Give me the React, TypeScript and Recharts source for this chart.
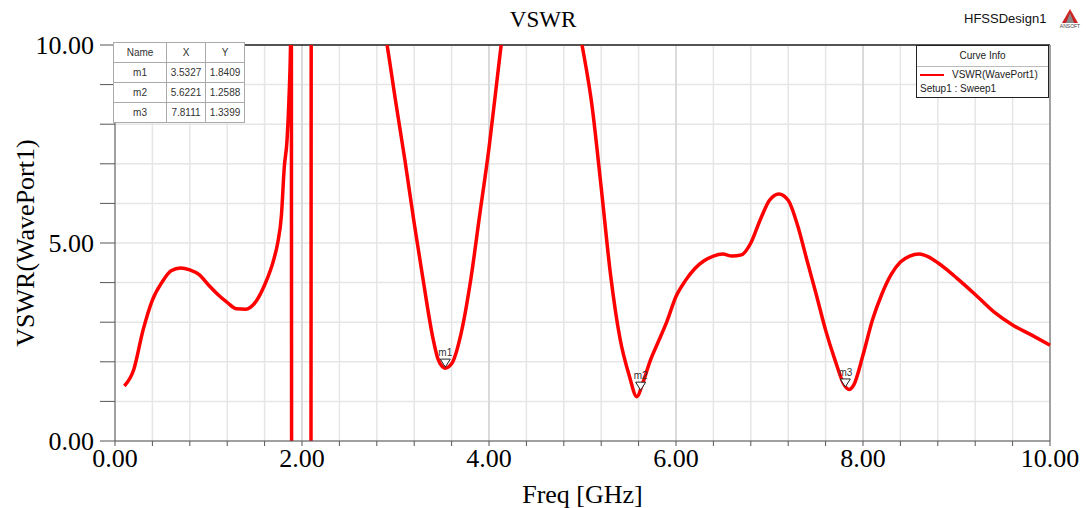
import React from "react";
import {
  LineChart,
  Line,
  CartesianGrid,
  XAxis,
  YAxis,
  ReferenceLine,
  ReferenceDot,
} from "recharts";

// frequency (GHz) and VSWR; values > 10 or < 0 are clipped by the frame
const freq = [
  0.1, 0.2, 0.3, 0.4, 0.5, 0.6, 0.7, 0.8, 0.9, 1.0, 1.1, 1.2, 1.3, 1.4, 1.5, 1.6, 1.7, 1.74, 1.78, 1.81, 1.84,
  1.86, 1.88, 1.885, 1.89, 2.095, 2.1, 2.5, 2.91, 3.0, 3.1, 3.2, 3.3, 3.4, 3.45, 3.5, 3.53, 3.6, 3.7, 3.8, 3.9,
  4.0, 4.1, 4.13, 4.5, 4.995, 5.1, 5.2, 5.3, 5.4, 5.5, 5.58, 5.65, 5.72, 5.8, 5.9, 6.0, 6.1, 6.2, 6.3, 6.4,
  6.5, 6.6, 6.7, 6.8, 6.9, 7.0, 7.1, 7.2, 7.3, 7.4, 7.5, 7.6, 7.7, 7.8, 7.85, 7.9, 8.0, 8.1, 8.2, 8.3, 8.4, 8.5,
  8.6, 8.7, 8.8, 8.9, 9.0, 9.2, 9.4, 9.6, 9.8, 10.0,
];
const vswr = [
  1.39, 1.8, 2.8, 3.56, 4.0, 4.3, 4.37, 4.32, 4.2, 3.94, 3.7, 3.5, 3.34, 3.33, 3.5, 3.94, 4.6, 5.0, 5.7, 6.9, 7.6,
  8.6, 10.4, 14, -3, -3, 14, 14, 10.0, 8.6, 7.1, 5.5, 4.0, 2.6, 2.1, 1.88, 1.84, 1.95, 2.7, 4.0, 5.7,
  7.4, 9.4, 10.0, 14, 10.0, 8.5, 6.4, 4.2, 2.6, 1.65, 1.12, 1.5, 2.0, 2.45, 3.0, 3.65, 4.05, 4.35, 4.55, 4.67,
  4.72, 4.67, 4.7, 5.0, 5.58, 6.08, 6.24, 6.08, 5.45, 4.57, 3.7, 2.8, 2.05, 1.41, 1.3, 1.41, 2.17, 3.05, 3.7, 4.2, 4.52, 4.67,
  4.72, 4.65, 4.5, 4.32, 4.12, 3.7, 3.26, 2.93, 2.68, 2.42,
];

const xTicks = [0, 0.4, 0.8, 1.2, 1.6, 2, 2.4, 2.8, 3.2, 3.6, 4, 4.4, 4.8, 5.2, 5.6, 6, 6.4, 6.8, 7.2, 7.6, 8, 8.4, 8.8, 9.2, 9.6, 10];
const xLabeled = [0, 2, 4, 6, 8, 10];
const yTicks = [0, 1, 2, 3, 4, 5, 6, 7, 8, 9, 10];
const yLabeled = [0, 5, 10];

const markerNames = ["m1", "m2", "m3"];
const markerX = [3.5327, 5.6221, 7.8111];
const markerY = [1.8409, 1.2588, 1.3399];

const data = freq.map((f, i) => ({ f, v: vswr[i] }));

const serif = "'Liberation Serif', 'DejaVu Serif', serif";
const sans = "'Liberation Sans', Arial, sans-serif";

function MarkerShape(props: any) {
  const { cx, cy, name } = props;
  return (
    <g>
      <path d={`M${cx - 5},${cy - 9} L${cx + 5},${cy - 9} L${cx},${cy - 1} Z`} fill="white" stroke="#222" strokeWidth={1} />
      <text x={cx} y={cy - 12} textAnchor="middle" fontSize={10} fontFamily={sans} fill="#333">
        {name}
      </text>
    </g>
  );
}

const cell: React.CSSProperties = {
  border: "1px solid #aaa",
  padding: 0,
  textAlign: "center",
  height: 19,
  fontSize: 10,
  color: "#333",
};

export default function App() {
  return (
    <div style={{ position: "absolute", left: 0, top: 0, width: 1086, height: 508, background: "#fff", fontFamily: serif }}>
      <LineChart width={1086} height={508} data={data} margin={{ top: 45, right: 36, bottom: 27, left: 0 }}>
        <CartesianGrid stroke="#e6e6e6" strokeWidth={1.5} />
        {[2, 4, 6, 8].map((x) => (
          <ReferenceLine key={x} x={x} stroke="#d4d4d4" strokeWidth={1.5} />
        ))}
        <ReferenceLine y={10} stroke="#222" strokeWidth={1.5} />
        <ReferenceLine x={10} stroke="#888" strokeWidth={1.5} />
        <XAxis
          dataKey="f"
          type="number"
          domain={[0, 10]}
          ticks={xTicks}
          interval={0}
          height={40}
          tickSize={5}
          stroke="#555"
          tickFormatter={(v: number) => (xLabeled.includes(Math.round(v * 10) / 10) ? v.toFixed(2) : "")}
          tick={{ fontSize: 26, fill: "#000", fontFamily: serif }}
          tickMargin={3}
          label={{
            value: "Freq [GHz]",
            position: "insideBottom",
            offset: -22,
            style: { fontSize: 26, fill: "#000", fontFamily: serif },
          }}
        />
        <YAxis
          type="number"
          domain={[0, 10]}
          allowDataOverflow
          ticks={yTicks}
          interval={0}
          width={115}
          tickSize={15}
          tickMargin={6}
          stroke="#555"
          tickFormatter={(v: number) => (yLabeled.includes(v) ? v.toFixed(2) : "")}
          tick={{ fontSize: 26, fill: "#000", fontFamily: serif }}
          label={{
            value: "VSWR(WavePort1)",
            angle: -90,
            position: "center",
            dx: -33,
            style: { fontSize: 26, fill: "#000", fontFamily: serif, textAnchor: "middle" },
          }}
        />
        <Line
          type="monotone"
          dataKey="v"
          stroke="#ff0000"
          strokeWidth={3.5}
          dot={false}
          isAnimationActive={false}
        />
        {markerNames.map((n, i) => (
          <ReferenceDot key={n} x={markerX[i]} y={markerY[i]} r={5} shape={(p: any) => <MarkerShape {...p} name={n} />} />
        ))}
      </LineChart>

      <div style={{ position: "absolute", left: 0, width: 1086, top: 7, textAlign: "center", fontSize: 23, fontFamily: serif }}>
        VSWR
      </div>
      <div style={{ position: "absolute", left: 964, top: 11, fontSize: 13, fontFamily: sans, color: "#111" }}>HFSSDesign1</div>
      <svg style={{ position: "absolute", left: 1056, top: 8 }} width={28} height={22}>
        <path d="M14,1 L22,15 L6,15 Z" fill="#cc2222" />
        <path d="M14,5 L18,15 L10,15 Z" fill="#888" />
        <text x={14} y={20} textAnchor="middle" fontSize={5} fontFamily={sans} fill="#444">
          ANSOFT
        </text>
      </svg>

      <table
        style={{
          position: "absolute",
          left: 113,
          top: 42,
          width: 132,
          borderCollapse: "collapse",
          border: "1.5px solid #444",
          background: "#fff",
          fontFamily: sans,
        }}
      >
        <tbody>
          <tr>
            <td style={{ ...cell, width: 52 }}>Name</td>
            <td style={{ ...cell, width: 38 }}>X</td>
            <td style={cell}>Y</td>
          </tr>
          {markerNames.map((n, i) => (
            <tr key={n}>
              <td style={cell}>{n}</td>
              <td style={cell}>{markerX[i].toFixed(4)}</td>
              <td style={cell}>{markerY[i].toFixed(4)}</td>
            </tr>
          ))}
        </tbody>
      </table>

      <div
        style={{
          position: "absolute",
          left: 916,
          top: 45,
          width: 131,
          height: 51,
          border: "1.5px solid #222",
          background: "#fff",
          fontFamily: sans,
          fontSize: 10,
          color: "#222",
        }}
      >
        <div style={{ height: 20, lineHeight: "20px", textAlign: "center", borderBottom: "1px solid #bbb" }}>Curve Info</div>
        <div style={{ display: "flex", alignItems: "center", height: 15, paddingLeft: 3 }}>
          <span style={{ display: "inline-block", width: 24, height: 2, background: "#ff0000", marginRight: 8 }} />
          VSWR(WavePort1)
        </div>
        <div style={{ paddingLeft: 3, height: 13, lineHeight: "13px" }}>Setup1 : Sweep1</div>
      </div>
    </div>
  );
}
